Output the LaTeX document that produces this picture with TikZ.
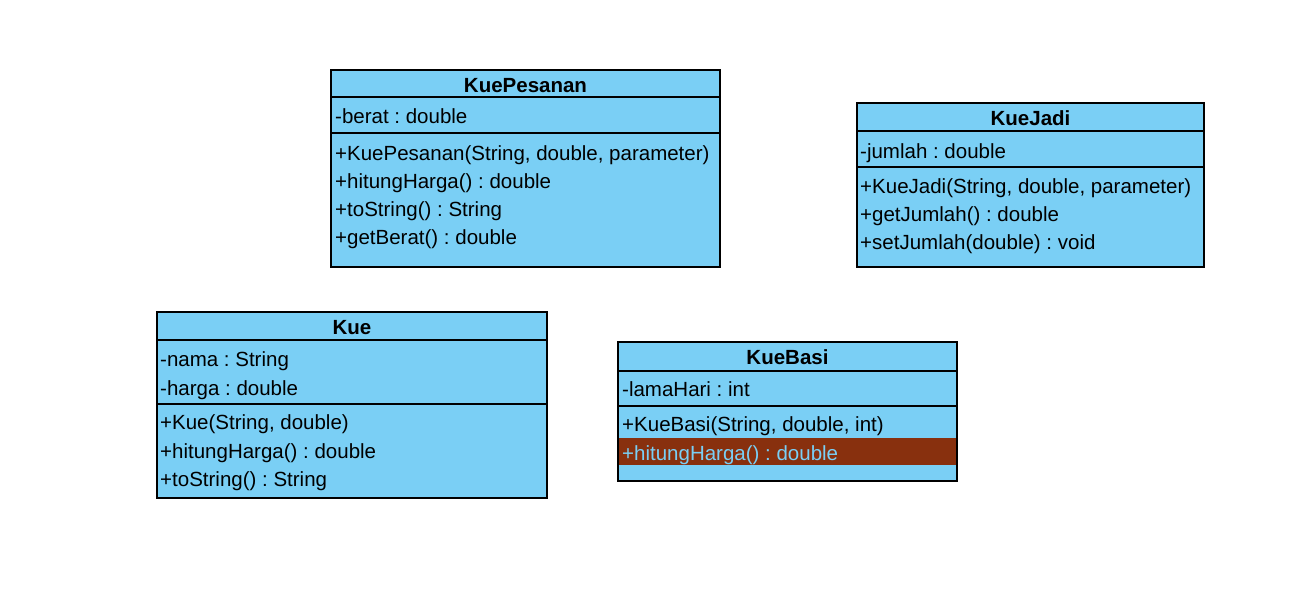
\documentclass[tikz,border=0pt]{standalone}
\usepackage{fontspec}
\setmainfont{Liberation Sans}
\definecolor{umlfill}{HTML}{7ACFF5}
\definecolor{umlsel}{HTML}{88300E}
\frenchspacing
\begin{document}
\begin{tikzpicture}[x=1pt,y=-1pt,
  box/.style={draw=black, line width=1.2pt, fill=umlfill, inner sep=0pt, outer sep=0pt, anchor=north west},
  frame/.style={draw=black, line width=1.2pt, inner sep=0pt, outer sep=0pt, anchor=north west},
  sel/.style={fill=umlsel, inner sep=0pt, outer sep=0pt, anchor=north west},
  txt/.style={anchor=base west, inner sep=0pt, font=\fontsize{20.5}{24}\selectfont\frenchspacing},
  seltxt/.style={txt, text=umlfill},
  ttl/.style={anchor=base, inner sep=0pt, font=\fontsize{20.5}{24}\selectfont\bfseries},
  sep/.style={line width=1.2pt}]
\useasboundingbox (0,0) rectangle (1316,599);

% ---------------- KuePesanan
\node[box, minimum width=389pt, minimum height=197pt] (kp) at (331,70) {};
\coordinate (kpA) at (331,97);
\coordinate (kpB) at (331,133);
\draw[sep] (kpA) -- (kpA -| kp.east);
\draw[sep] (kpB) -- (kpB -| kp.east);
\node[ttl] (kpT) at (525.5,93) {KuePesanan};
\node[txt] (kp1) at (335,124) {-berat : double};
\node[txt] (kp2) at (335,160) {+KuePesanan(String, double, parameter)};
\node[txt] (kp3) at (335,188) {+hitungHarga() : double};
\node[txt] (kp4) at (335,216) {+toString() : String};
\node[txt] (kp5) at (335,244) {+getBerat() : double};

% ---------------- KueJadi
\node[box, minimum width=347pt, minimum height=164pt] (kj) at (857,103) {};
\coordinate (kjA) at (857,131);
\coordinate (kjB) at (857,167);
\draw[sep] (kjA) -- (kjA -| kj.east);
\draw[sep] (kjB) -- (kjB -| kj.east);
\node[ttl] (kjT) at (1030.5,125) {KueJadi};
\node[txt] (kj1) at (860,158) {-jumlah : double};
\node[txt] (kj2) at (860,193) {+KueJadi(String, double, parameter)};
\node[txt] (kj3) at (860,221) {+getJumlah() : double};
\node[txt] (kj4) at (860,249) {+setJumlah(double) : void};

% ---------------- Kue
\node[box, minimum width=390pt, minimum height=186pt] (k) at (157,312) {};
\coordinate (kA) at (157,340);
\coordinate (kB) at (157,404);
\draw[sep] (kA) -- (kA -| k.east);
\draw[sep] (kB) -- (kB -| k.east);
\node[ttl] (kT) at (352,334) {Kue};
\node[txt] (k1) at (160,366) {-nama : String};
\node[txt] (k2) at (160,395) {-harga : double};
\node[txt] (k3) at (160,429) {+Kue(String, double)};
\node[txt] (k4) at (160,458) {+hitungHarga() : double};
\node[txt] (k5) at (160,486) {+toString() : String};

% ---------------- KueBasi
\node[box, minimum width=339pt, minimum height=139pt] (kb) at (618,342) {};
\node[sel, minimum width=339pt, minimum height=27pt] (kbS) at (618,438) {};
\node[frame, minimum width=339pt, minimum height=139pt] (kbF) at (618,342) {};
\coordinate (kbA) at (618,371);
\coordinate (kbB) at (618,406);
\draw[sep] (kbA) -- (kbA -| kb.east);
\draw[sep] (kbB) -- (kbB -| kb.east);
\node[ttl] (kbT) at (787.5,364) {KueBasi};
\node[txt] (kb1) at (622,396) {-lamaHari : int};
\node[txt] (kb2) at (622,431) {+KueBasi(String, double, int)};
\node[seltxt] (kb3) at (622,460) {+hitungHarga() : double};
\end{tikzpicture}
\end{document}
